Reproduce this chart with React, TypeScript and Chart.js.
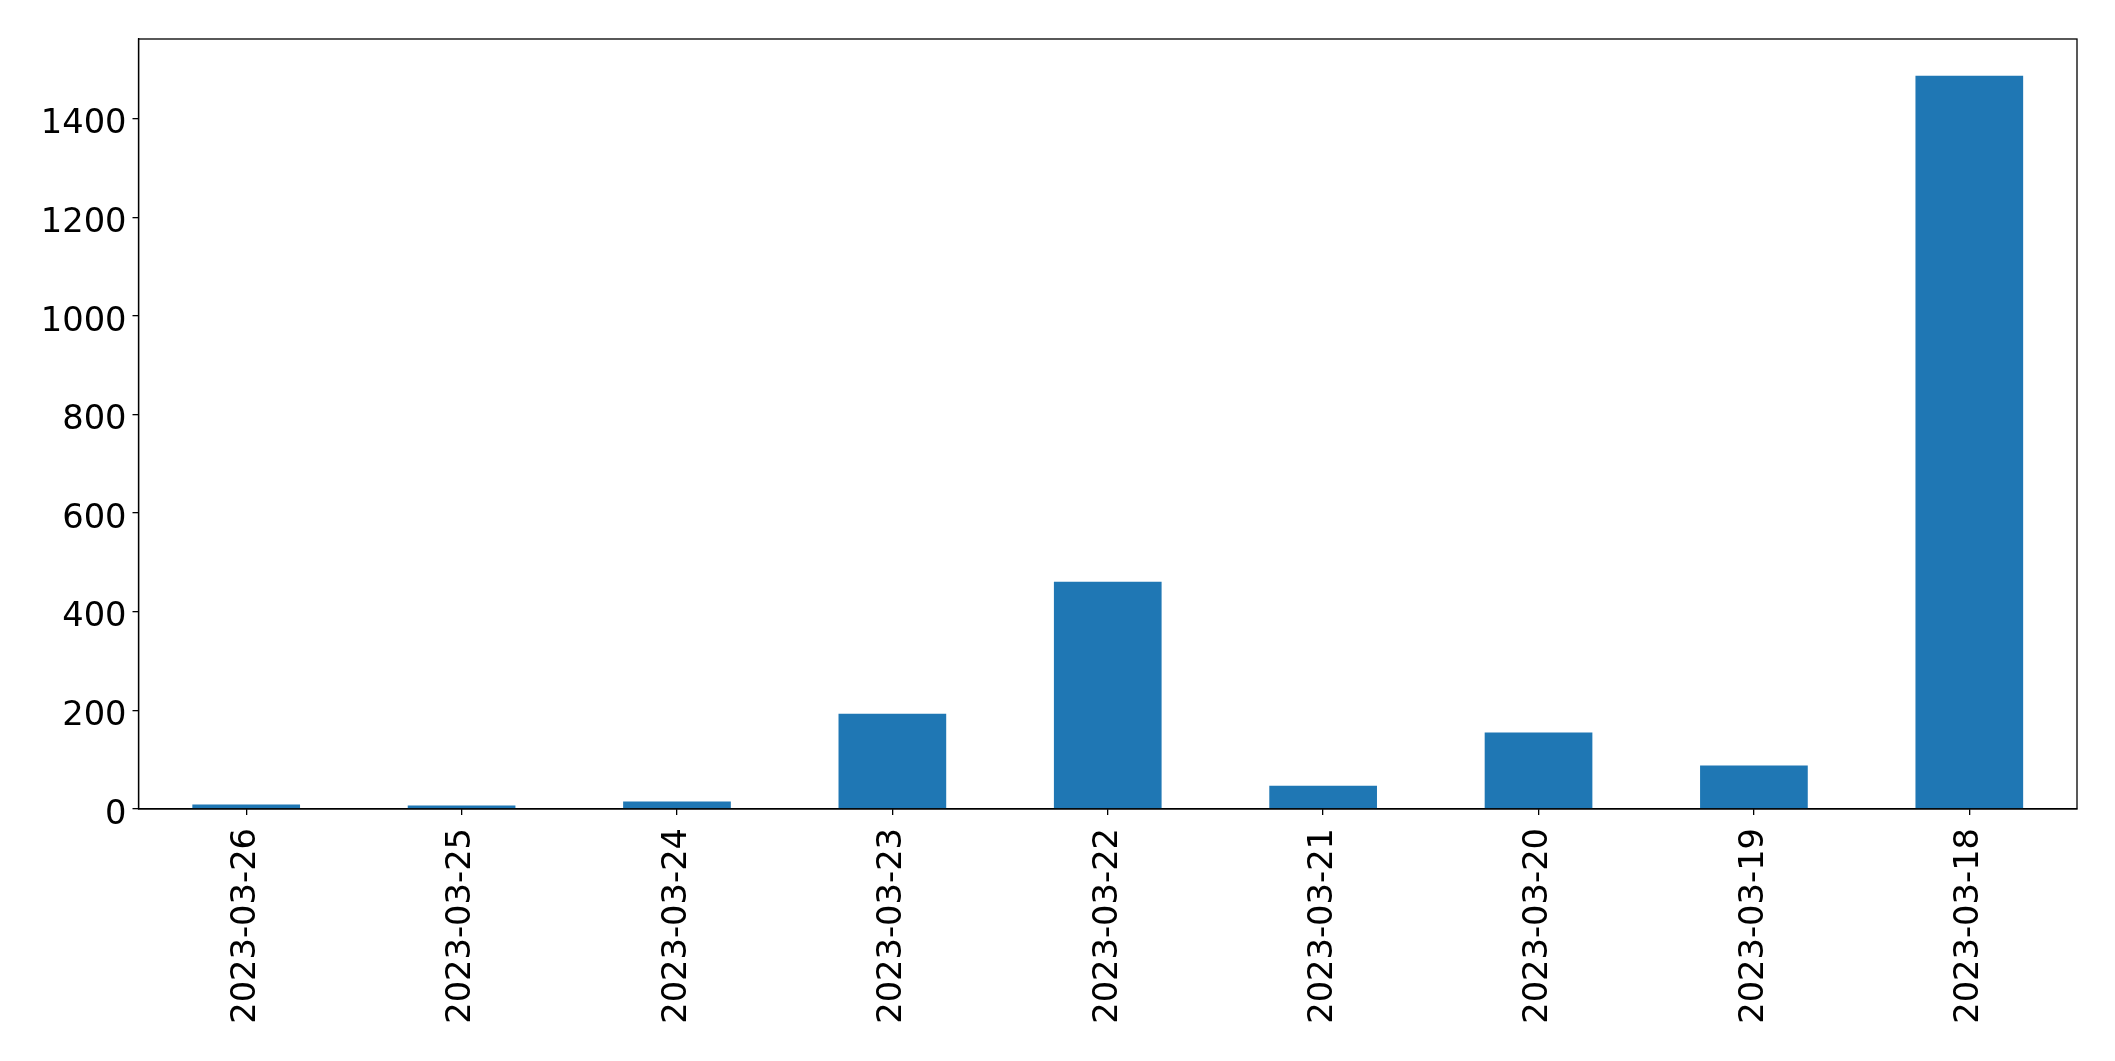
import React, { useEffect, useRef } from "react";
import { Chart, registerables } from "chart.js";

Chart.register(...registerables);

const categories = [
  "2023-03-26",
  "2023-03-25",
  "2023-03-24",
  "2023-03-23",
  "2023-03-22",
  "2023-03-21",
  "2023-03-20",
  "2023-03-19",
  "2023-03-18",
];
const values = [9, 7, 15, 193, 461, 47, 155, 88, 1487];
const yTickValues = [0, 200, 400, 600, 800, 1000, 1200, 1400];

const FONT = "'DejaVu Sans', sans-serif";

const framePlugin = {
  id: "frame",
  afterDraw(chart: any) {
    const { ctx, chartArea } = chart;
    ctx.save();
    ctx.strokeStyle = "#000";
    ctx.lineWidth = 1.3;
    ctx.strokeRect(
      chartArea.left,
      chartArea.top,
      chartArea.right - chartArea.left,
      chartArea.bottom - chartArea.top
    );
    ctx.restore();
  },
};

export default function App() {
  const ref = useRef<HTMLCanvasElement | null>(null);
  useEffect(() => {
    document.body.style.margin = "0";
    const canvas = ref.current!;
    const chart = new Chart(canvas, {
      type: "bar",
      data: {
        labels: categories,
        datasets: [
          {
            data: values,
            backgroundColor: "#1f77b4",
            borderWidth: 0,
            categoryPercentage: 1,
            barPercentage: 0.5,
          },
        ],
      },
      options: {
        animation: false,
        responsive: false,
        maintainAspectRatio: false,
        layout: { padding: { top: 39, right: 38, left: 0, bottom: 0 } },
        plugins: { legend: { display: false }, tooltip: { enabled: false } },
        scales: {
          x: {
            offset: true,
            grid: {
              display: true,
              offset: false,
              drawOnChartArea: false,
              drawTicks: true,
              tickLength: 6,
              color: "#000",
              lineWidth: 1.3,
            },
            border: { display: true, color: "#000", width: 1.3 },
            ticks: {
              color: "#000",
              font: { family: FONT, size: 33.7 },
              minRotation: 90,
              maxRotation: 90,
              padding: 13,
              autoSkip: false,
            },
            afterFit(scale: any) {
              scale.height = 252;
            },
          },
          y: {
            min: 0,
            max: Math.max(...values) * 1.05,
            grid: {
              display: true,
              drawOnChartArea: false,
              drawTicks: true,
              tickLength: 6,
              color: "#000",
              lineWidth: 1.3,
            },
            border: { display: true, color: "#000", width: 1.3 },
            ticks: {
              color: "#000",
              font: { family: FONT, size: 33.7 },
              padding: 6,
              labelOffset: 6,
              callback: (v: any) => String(v),
            },
            afterBuildTicks(scale: any) {
              scale.ticks = yTickValues.map((v) => ({ value: v }));
            },
            afterFit(scale: any) {
              scale.width = 138.5;
            },
          },
        },
      },
      plugins: [framePlugin],
    });
    return () => chart.destroy();
  }, []);
  return (
    <div style={{ position: "absolute", left: 0, top: 0, width: 2115, height: 1061 }}>
      <canvas ref={ref} width={2115} height={1061} style={{ width: 2115, height: 1061 }} />
    </div>
  );
}
